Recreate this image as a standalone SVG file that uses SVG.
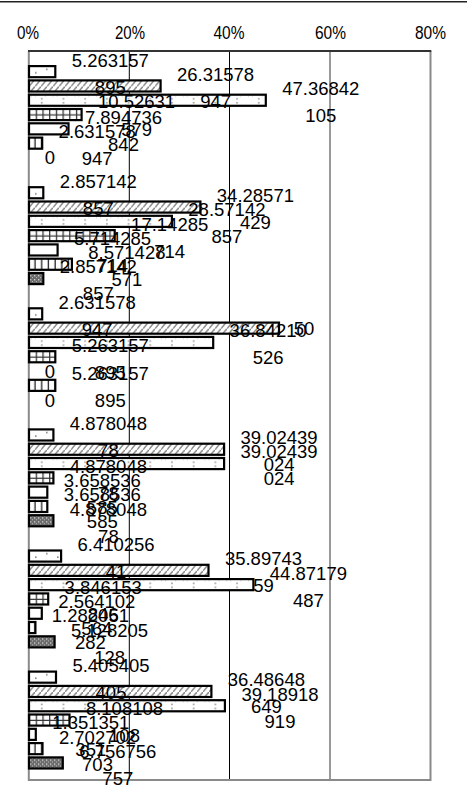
<svg xmlns="http://www.w3.org/2000/svg" width="472" height="802" viewBox="0 0 472 802">
<style>
.ax{font-family:"Liberation Sans",Arial,sans-serif;font-size:17.5px;fill:#000;text-anchor:middle}
.lb{font-family:"Liberation Sans",Arial,sans-serif;font-size:18.5px;fill:#000;text-anchor:middle}
.b{stroke:#000;stroke-width:2.2}
.grid{stroke:#000;stroke-width:1}
</style>
<defs>
<pattern id="p1" patternUnits="userSpaceOnUse" width="22" height="14.3">
<rect width="22" height="14.3" fill="#fff"/>
<rect x="6" y="7" width="1.6" height="1.6" fill="#888"/>
<rect x="17" y="3.5" width="1.6" height="1.6" fill="#888"/>
</pattern>
<pattern id="p2" patternUnits="userSpaceOnUse" width="6" height="7.15">
<rect width="6" height="7.15" fill="#fff"/>
<path d="M-1,8.3 L7,-1.2" stroke="#888" stroke-width="1.5"/>
</pattern>
<pattern id="p3" patternUnits="userSpaceOnUse" width="21.7" height="14.3">
<rect width="21.7" height="14.3" fill="#fff"/>
<rect x="12" y="4.5" width="1.5" height="1.5" fill="#888"/>
<rect x="12" y="8.5" width="1.5" height="1.5" fill="#888"/>
<rect x="2" y="2.2" width="0.9" height="0.9" fill="#bbb"/>
<rect x="6" y="2.2" width="0.9" height="0.9" fill="#bbb"/>
<rect x="16" y="2.2" width="0.9" height="0.9" fill="#bbb"/>
</pattern>
<pattern id="p4" patternUnits="userSpaceOnUse" width="6.7" height="14.3">
<rect width="6.7" height="14.3" fill="#fff"/>
<path d="M0.6,0 V14.3 M0,7 H6.7" stroke="#333" stroke-width="1.3"/>
</pattern>
<pattern id="p6" patternUnits="userSpaceOnUse" width="6.7" height="14.3">
<rect width="6.7" height="14.3" fill="#fff"/>
<path d="M6.1,0 V14.3" stroke="#222" stroke-width="1.4"/>
</pattern>
<pattern id="p7" patternUnits="userSpaceOnUse" width="4" height="4">
<rect width="4" height="4" fill="#6a6a6a"/>
<rect x="1" y="1" width="1.3" height="1.3" fill="#ddd"/>
<rect x="3" y="3" width="1" height="1" fill="#bbb"/>
</pattern>
</defs>
<rect width="472" height="802" fill="#fff"/>
<line x1="0" y1="1.8" x2="467" y2="1.8" stroke="#222" stroke-width="1.5"/>
<g id="axis-labels">
<text class="ax" x="28" y="39" textLength="22" lengthAdjust="spacingAndGlyphs">0%</text>
<text class="ax" x="130" y="39" textLength="30" lengthAdjust="spacingAndGlyphs">20%</text>
<text class="ax" x="229" y="39" textLength="31" lengthAdjust="spacingAndGlyphs">40%</text>
<text class="ax" x="330.5" y="39" textLength="31" lengthAdjust="spacingAndGlyphs">60%</text>
<text class="ax" x="430.5" y="39" textLength="31" lengthAdjust="spacingAndGlyphs">80%</text>
</g>
<g id="plot-area">
<line class="grid" x1="129.3" y1="51" x2="129.3" y2="780"/>
<line class="grid" x1="229.5" y1="51" x2="229.5" y2="780"/>
<line x1="330" y1="51" x2="330" y2="780" stroke="#555" stroke-width="1.2"/>
<path d="M28.8,51 V780 H430.5 V51" fill="none" stroke="#8a8a8a" stroke-width="2"/>
<line x1="28" y1="51" x2="431.3" y2="51" stroke="#333" stroke-width="1.8"/>
</g>
<g id="cat1">
<g transform="translate(29,65)">
<rect class="b" fill="url(#p1)" x="0" y="1.1" width="26.3" height="11.1"/>
<rect class="b" fill="url(#p2)" x="0" y="15.4" width="131.6" height="11.1"/>
<rect class="b" fill="url(#p3)" x="0" y="29.7" width="236.8" height="11.1"/>
<rect class="b" fill="url(#p4)" x="0" y="44" width="52.6" height="11.1"/>
<rect class="b" fill="#fff" x="0" y="58.3" width="39.5" height="11.1"/>
<rect class="b" fill="url(#p6)" x="0" y="72.6" width="13.2" height="11.1"/>
</g>
<text class="lb" x="110.3" y="66.5">5.263157</text><text class="lb" x="110.3" y="93.5">895</text>
<text class="lb" x="215.6" y="80.8">26.31578</text><text class="lb" x="215.6" y="107.8">947</text>
<text class="lb" x="320.8" y="95.1">47.36842</text><text class="lb" x="320.8" y="122.1">105</text>
<text class="lb" x="136.6" y="108.4">10.52631</text><text class="lb" x="136.6" y="136.4">579</text>
<text class="lb" x="123.5" y="123.7">7.894736</text><text class="lb" x="123.5" y="150.7">842</text>
<text class="lb" x="97.2" y="138">2.631578</text><text class="lb" x="97.2" y="165">947</text>
<text class="lb" x="50" y="164.3">0</text>
</g>
<g id="cat2">
<g transform="translate(29,186.1)">
<rect class="b" fill="url(#p1)" x="0" y="1.1" width="14.3" height="11.1"/>
<rect class="b" fill="url(#p2)" x="0" y="15.4" width="171.4" height="11.1"/>
<rect class="b" fill="url(#p3)" x="0" y="29.7" width="142.9" height="11.1"/>
<rect class="b" fill="url(#p4)" x="0" y="44" width="85.7" height="11.1"/>
<rect class="b" fill="#fff" x="0" y="58.3" width="28.6" height="11.1"/>
<rect class="b" fill="url(#p6)" x="0" y="72.6" width="42.9" height="11.1"/>
<rect class="b" fill="url(#p7)" x="0" y="86.9" width="14.3" height="11.1"/>
</g>
<text class="lb" x="98.3" y="187.6">2.857142</text><text class="lb" x="98.3" y="214.6">857</text>
<text class="lb" x="255.4" y="201.9">34.28571</text><text class="lb" x="255.4" y="228.9">429</text>
<text class="lb" x="226.9" y="216.2">28.57142</text><text class="lb" x="226.9" y="243.2">857</text>
<text class="lb" x="169.7" y="230.5">17.14285</text><text class="lb" x="169.7" y="257.5">714</text>
<text class="lb" x="112.6" y="244.8">5.714285</text><text class="lb" x="112.6" y="271.8">714</text>
<text class="lb" x="126.9" y="259.1">8.571428</text><text class="lb" x="126.9" y="286.1">571</text>
<text class="lb" x="98.3" y="273.4">2.857142</text><text class="lb" x="98.3" y="300.4">857</text>
</g>
<g id="cat3">
<g transform="translate(29,307.2)">
<rect class="b" fill="url(#p1)" x="0" y="1.1" width="13.2" height="11.1"/>
<rect class="b" fill="url(#p2)" x="0" y="15.4" width="250" height="11.1"/>
<rect class="b" fill="url(#p3)" x="0" y="29.7" width="184.2" height="11.1"/>
<rect class="b" fill="url(#p4)" x="0" y="44" width="26.3" height="11.1"/>
<rect class="b" fill="url(#p6)" x="0" y="72.6" width="26.3" height="11.1"/>
</g>
<text class="lb" x="97.2" y="308.7">2.631578</text><text class="lb" x="97.2" y="335.7">947</text>
<text class="lb" x="268.2" y="337.3">36.84210</text><text class="lb" x="268.2" y="364.3">526</text>
<text class="lb" x="304" y="335">50</text>
<text class="lb" x="110.3" y="351.6">5.263157</text><text class="lb" x="110.3" y="378.6">895</text>
<text class="lb" x="50" y="377.9">0</text>
<text class="lb" x="110.3" y="380.2">5.263157</text><text class="lb" x="110.3" y="407.2">895</text>
<text class="lb" x="50" y="406.5">0</text>
</g>
<g id="cat4">
<g transform="translate(29,428.3)">
<rect class="b" fill="url(#p1)" x="0" y="1.1" width="24.4" height="11.1"/>
<rect class="b" fill="url(#p2)" x="0" y="15.4" width="195.1" height="11.1"/>
<rect class="b" fill="url(#p3)" x="0" y="29.7" width="195.1" height="11.1"/>
<rect class="b" fill="url(#p4)" x="0" y="44" width="24.4" height="11.1"/>
<rect class="b" fill="#fff" x="0" y="58.3" width="18.3" height="11.1"/>
<rect class="b" fill="url(#p6)" x="0" y="72.6" width="18.3" height="11.1"/>
<rect class="b" fill="url(#p7)" x="0" y="86.9" width="24.4" height="11.1"/>
</g>
<text class="lb" x="108.4" y="429.8">4.878048</text><text class="lb" x="108.4" y="456.8">78</text>
<text class="lb" x="279.1" y="444.1">39.02439</text><text class="lb" x="279.1" y="471.1">024</text>
<text class="lb" x="279.1" y="458.4">39.02439</text><text class="lb" x="279.1" y="485.4">024</text>
<text class="lb" x="108.4" y="472.7">4.878048</text><text class="lb" x="108.4" y="499.7">78</text>
<text class="lb" x="102.3" y="487">3.658536</text><text class="lb" x="102.3" y="514">585</text>
<text class="lb" x="102.3" y="501.3">3.658536</text><text class="lb" x="102.3" y="528.3">585</text>
<text class="lb" x="108.4" y="515.6">4.878048</text><text class="lb" x="108.4" y="542.6">78</text>
</g>
<g id="cat5">
<g transform="translate(29,549.4)">
<rect class="b" fill="url(#p1)" x="0" y="1.1" width="32.1" height="11.1"/>
<rect class="b" fill="url(#p2)" x="0" y="15.4" width="179.5" height="11.1"/>
<rect class="b" fill="url(#p3)" x="0" y="29.7" width="224.4" height="11.1"/>
<rect class="b" fill="url(#p4)" x="0" y="44" width="19.2" height="11.1"/>
<rect class="b" fill="#fff" x="0" y="58.3" width="12.8" height="11.1"/>
<rect class="b" fill="url(#p6)" x="0" y="72.6" width="6.4" height="11.1"/>
<rect class="b" fill="url(#p7)" x="0" y="86.9" width="25.6" height="11.1"/>
</g>
<text class="lb" x="116.1" y="550.9">6.410256</text><text class="lb" x="116.1" y="577.9">41</text>
<text class="lb" x="263.5" y="565.2">35.89743</text><text class="lb" x="263.5" y="592.2">59</text>
<text class="lb" x="308.4" y="579.5">44.87179</text><text class="lb" x="308.4" y="606.5">487</text>
<text class="lb" x="103.2" y="593.8">3.846153</text><text class="lb" x="103.2" y="620.8">846</text>
<text class="lb" x="96.8" y="608.1">2.564102</text><text class="lb" x="96.8" y="635.1">564</text>
<text class="lb" x="90.4" y="622.4">1.282051</text><text class="lb" x="90.4" y="649.4">282</text>
<text class="lb" x="109.6" y="636.7">5.128205</text><text class="lb" x="109.6" y="663.7">128</text>
</g>
<g id="cat6">
<g transform="translate(29,670.5)">
<rect class="b" fill="url(#p1)" x="0" y="1.1" width="27" height="11.1"/>
<rect class="b" fill="url(#p2)" x="0" y="15.4" width="182.4" height="11.1"/>
<rect class="b" fill="url(#p3)" x="0" y="29.7" width="195.9" height="11.1"/>
<rect class="b" fill="url(#p4)" x="0" y="44" width="40.5" height="11.1"/>
<rect class="b" fill="#fff" x="0" y="58.3" width="6.8" height="11.1"/>
<rect class="b" fill="url(#p6)" x="0" y="72.6" width="13.5" height="11.1"/>
<rect class="b" fill="url(#p7)" x="0" y="86.9" width="33.8" height="11.1"/>
</g>
<text class="lb" x="111" y="672">5.405405</text><text class="lb" x="111" y="699">405</text>
<text class="lb" x="266.4" y="686.3">36.48648</text><text class="lb" x="266.4" y="713.3">649</text>
<text class="lb" x="280" y="700.6">39.18918</text><text class="lb" x="280" y="727.6">919</text>
<text class="lb" x="124.5" y="714.9">8.108108</text><text class="lb" x="124.5" y="741.9">108</text>
<text class="lb" x="90.8" y="729.2">1.351351</text><text class="lb" x="90.8" y="756.2">351</text>
<text class="lb" x="97.5" y="743.5">2.702702</text><text class="lb" x="97.5" y="770.5">703</text>
<text class="lb" x="117.8" y="757.8">6.756756</text><text class="lb" x="117.8" y="784.8">757</text>
</g>
</svg>
